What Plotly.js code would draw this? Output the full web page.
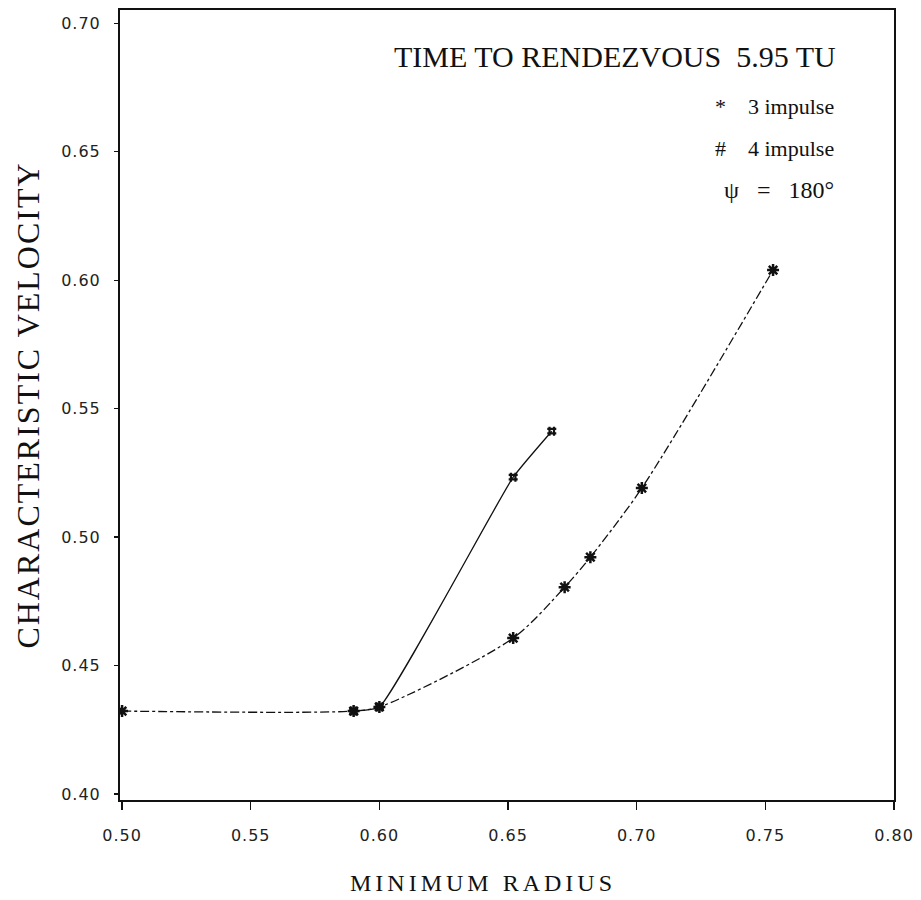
<!DOCTYPE html>
<html>
<head>
<meta charset="utf-8">
<script src="https://cdn.plot.ly/plotly-3.0.1.min.js"></script>
<style>
html,body{margin:0;padding:0;background:#fff;}
#chart{width:921px;height:900px;}
.xtick text, .ytick text {letter-spacing: 1px;}
.xtitle {letter-spacing: 4px; transform: translateX(-24px);}
.ytitle {letter-spacing: 2px;}
</style>
</head>
<body>
<div id="chart"></div>
<script>
// Data
const radius3 = [0.50, 0.59, 0.60, 0.652, 0.672, 0.682, 0.702, 0.753];
const velocity3 = [0.4323, 0.4323, 0.4339, 0.4607, 0.4805, 0.4922, 0.5191, 0.6039];
const radius4 = [0.59, 0.60, 0.652, 0.667];
const velocity4 = [0.4323, 0.4339, 0.5233, 0.5412];
const yTickVals = [0.40, 0.45, 0.50, 0.55, 0.60, 0.65, 0.70];
const xTickVals = [0.50, 0.55, 0.60, 0.65, 0.70, 0.75, 0.80];

const serif = "Liberation Serif, Times New Roman, serif";
const sans = "DejaVu Sans, Verdana, sans-serif";

const traces = [
  {
    x: radius3, y: velocity3, type: "scatter", mode: "lines+markers", name: "3 impulse",
    line: {color: "#111", width: 1.3, dash: "dashdot", shape: "spline", smoothing: 0.8},
    marker: {symbol: "asterisk-open", size: 10, color: "#111", line: {color: "#111", width: 2.5}}
  },
  {
    x: radius4, y: velocity4, type: "scatter", mode: "lines+markers", name: "4 impulse",
    line: {color: "#111", width: 1.3, dash: "solid", shape: "spline", smoothing: 0.4},
    marker: {symbol: "hash-open", size: 9, color: "#111", line: {color: "#111", width: 2.2}}
  }
];

const layout = {
  width: 921, height: 900,
  margin: {l: 120, r: 27, t: 10, b: 100},
  paper_bgcolor: "#fff", plot_bgcolor: "#fff",
  showlegend: false,
  xaxis: {
    range: [0.4992, 0.8], tickvals: xTickVals, tickformat: ".2f",
    showgrid: false, zeroline: false,
    showline: true, mirror: true, linecolor: "#111", linewidth: 1.6,
    ticks: "outside", ticklen: 8, tickwidth: 1.3, tickcolor: "#111",
    ticklabelstandoff: 12,
    tickfont: {family: sans, size: 16, color: "#222"},
    title: {text: "MINIMUM RADIUS", font: {family: serif, size: 24, color: "#111"}, standoff: 30}
  },
  yaxis: {
    range: [0.3977, 0.7051], tickvals: yTickVals, tickformat: ".2f",
    showgrid: false, zeroline: false,
    showline: true, mirror: true, linecolor: "#111", linewidth: 2,
    ticks: "outside", ticklen: 4, tickwidth: 1.2, tickcolor: "#111",
    ticklabelstandoff: 10,
    tickfont: {family: sans, size: 16, color: "#222"},
    title: {text: "CHARACTERISTIC VELOCITY", font: {family: serif, size: 32, color: "#111"}, standoff: 12}
  },
  annotations: [
    {xref: "paper", yref: "paper", x: 0.928, y: 0.941, xanchor: "right", yanchor: "middle", showarrow: false,
     text: "TIME TO RENDEZVOUS  5.95 TU", font: {family: serif, size: 30, color: "#111"}},
    {xref: "paper", yref: "paper", x: 0.925, y: 0.878, xanchor: "right", yanchor: "middle", showarrow: false,
     text: "*    3 impulse", font: {family: serif, size: 22, color: "#111"}},
    {xref: "paper", yref: "paper", x: 0.925, y: 0.825, xanchor: "right", yanchor: "middle", showarrow: false,
     text: "#    4 impulse", font: {family: serif, size: 22, color: "#111"}},
    {xref: "paper", yref: "paper", x: 0.925, y: 0.772, xanchor: "right", yanchor: "middle", showarrow: false,
     text: "ψ   =   180°", font: {family: serif, size: 24, color: "#111"}}
  ]
};

Plotly.newPlot("chart", traces, layout, {displayModeBar: false, staticPlot: true});
</script>
</body>
</html>
